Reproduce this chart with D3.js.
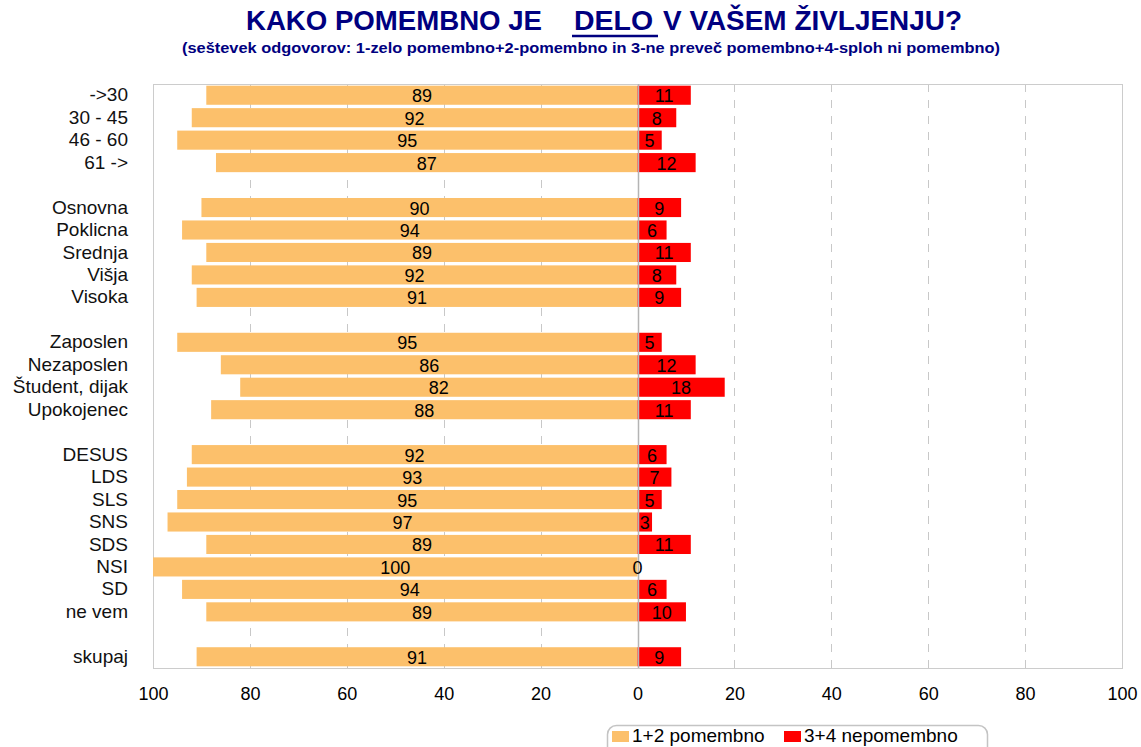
<!DOCTYPE html>
<html>
<head>
<meta charset="utf-8">
<script src="https://cdn.jsdelivr.net/npm/d3@7"></script>
<style>
  body { margin: 0; background: #fff; }
  .content { width: 1141px; height: 747px; }
  text { font-family: "Liberation Sans", Arial, sans-serif; }
</style>
</head>
<body>
<div class="content"></div>
<script>
// rows (empty keys are the gaps between groups)
var categories = ['->30', '30 - 45', '46 - 60', '61 ->', 'gap1',
  'Osnovna', 'Poklicna', 'Srednja', 'Višja', 'Visoka', 'gap2',
  'Zaposlen', 'Nezaposlen', 'Študent, dijak', 'Upokojenec', 'gap3',
  'DESUS', 'LDS', 'SLS', 'SNS', 'SDS', 'NSI', 'SD', 'ne vem', 'gap4',
  'skupaj'];
var pomembno = [89, 92, 95, 87, null, 90, 94, 89, 92, 91, null, 95, 86, 82, 88, null,
  92, 93, 95, 97, 89, 100, 94, 89, null, 91];
var nepomembno = [11, 8, 5, 12, null, 9, 6, 11, 8, 9, null, 5, 12, 18, 11, null,
  6, 7, 5, 3, 11, 0, 6, 10, null, 9];
var xTicks = [-100, -80, -60, -40, -20, 0, 20, 40, 60, 80, 100];
var seriesNames = ['1+2 pomembno', '3+4 nepomembno'];

var data = categories.map(function(c, i) {
  return {name: c, pos: pomembno[i], neg: nepomembno[i]};
}).filter(function(d) { return d.pos !== null; });

var svg = d3.select('.content')
  .append('svg')
  .attr('width', 1141)
  .attr('height', 747);

var margin = {left: 153, top: 84, right: 19, bottom: 79};
var width = 1141 - margin.left - margin.right,
  height = 747 - margin.top - margin.bottom;

var orange = '#fcc06b', red = '#ff0000', navy = '#000080';

// title
var title = svg.append('g').attr('fill', navy).attr('font-weight', 'bold');
title.append('text')
  .attr('x', 246).attr('y', 30)
  .attr('font-size', 28)
  .attr('textLength', 296).attr('lengthAdjust', 'spacingAndGlyphs')
  .text('KAKO POMEMBNO JE');
title.append('text')
  .attr('x', 574).attr('y', 30)
  .attr('font-size', 28)
  .attr('textLength', 79).attr('lengthAdjust', 'spacingAndGlyphs')
  .text('DELO');
title.append('line')
  .attr('x1', 572).attr('x2', 658)
  .attr('y1', 36).attr('y2', 36)
  .attr('stroke', navy).attr('stroke-width', 2.5);
title.append('text')
  .attr('x', 663).attr('y', 30)
  .attr('font-size', 28)
  .attr('textLength', 299).attr('lengthAdjust', 'spacingAndGlyphs')
  .text('V VAŠEM ŽIVLJENJU?');
title.append('text')
  .attr('x', 182).attr('y', 53)
  .attr('font-size', 15)
  .attr('textLength', 818).attr('lengthAdjust', 'spacingAndGlyphs')
  .text('(seštevek odgovorov: 1-zelo pomembno+2-pomembno in 3-ne preveč pomembno+4-sploh ni pomembno)');

var x = d3.scaleLinear().domain([-100, 100]).range([0, width]);
var y = d3.scaleBand().domain(categories).range([0, height])
  .paddingInner(0.15).paddingOuter(0.075);

var g = svg.append('g')
  .attr('transform', 'translate(' + margin.left + ',' + margin.top + ')');

// dashed grid
g.append('g')
  .selectAll('line')
  .data(xTicks.filter(function(t) { return t !== 0 && Math.abs(t) !== 100; }))
  .enter()
  .append('line')
  .attr('x1', function(d) { return Math.round(x(d)) + 0.5; })
  .attr('x2', function(d) { return Math.round(x(d)) + 0.5; })
  .attr('y1', 0).attr('y2', height)
  .attr('stroke', '#c8c8c8')
  .attr('stroke-dasharray', '8,8');

// plot border
g.append('rect')
  .attr('x', 0.5).attr('y', 0.5)
  .attr('width', width).attr('height', height)
  .attr('fill', 'none')
  .attr('stroke', '#cccccc');

// bars
g.append('g')
  .selectAll('rect')
  .data(data)
  .enter()
  .append('rect')
  .attr('x', function(d) { return x(-d.pos); })
  .attr('y', function(d) { return y(d.name); })
  .attr('width', function(d) { return x(0) - x(-d.pos); })
  .attr('height', y.bandwidth())
  .attr('fill', orange);

g.append('g')
  .selectAll('rect')
  .data(data)
  .enter()
  .append('rect')
  .attr('x', x(0))
  .attr('y', function(d) { return y(d.name); })
  .attr('width', function(d) { return x(d.neg) - x(0); })
  .attr('height', y.bandwidth())
  .attr('fill', red);

// zero line
g.append('line')
  .attr('x1', Math.round(x(0)) + 0.5).attr('x2', Math.round(x(0)) + 0.5)
  .attr('y1', 0).attr('y2', height)
  .attr('stroke', '#b4b4b4')
  .attr('stroke-width', 1.5);

// value labels
g.append('g')
  .selectAll('text')
  .data(data)
  .enter()
  .append('text')
  .attr('x', function(d) { return x(-d.pos / 2); })
  .attr('y', function(d) { return y(d.name) + y.bandwidth() / 2 + 7; })
  .attr('text-anchor', 'middle')
  .attr('font-size', 18)
  .attr('fill', '#000')
  .text(function(d) { return d.pos; });

g.append('g')
  .selectAll('text')
  .data(data)
  .enter()
  .append('text')
  .attr('x', function(d) { return x(d.neg / 2); })
  .attr('y', function(d) { return y(d.name) + y.bandwidth() / 2 + 7; })
  .attr('text-anchor', 'middle')
  .attr('font-size', 18)
  .attr('fill', '#000')
  .text(function(d) { return d.neg; });

// category axis
var axis_y = g.append('g')
  .call(d3.axisLeft(y).tickSize(0).tickPadding(25)
    .tickFormat(function(d) { return d.indexOf('gap') === 0 ? '' : d; }));
axis_y.selectAll('text')
  .attr('font-size', 19)
  .attr('font-family', '"Liberation Sans", Arial, sans-serif')
  .attr('fill', '#111');
axis_y.select('.domain').style('display', 'none');

// value axis
var axis_x = g.append('g')
  .attr('transform', 'translate(0,' + height + ')')
  .call(d3.axisBottom(x).tickValues(xTicks).tickSize(0).tickPadding(19)
    .tickFormat(function(d) { return Math.abs(d); }));
axis_x.selectAll('text')
  .attr('font-size', 18)
  .attr('font-family', '"Liberation Sans", Arial, sans-serif')
  .attr('fill', '#000');
axis_x.select('.domain').style('display', 'none');

// legend
var legend = svg.append('g').attr('transform', 'translate(607,725)');
legend.append('rect')
  .attr('x', 0.5).attr('y', 0.5)
  .attr('width', 380).attr('height', 40)
  .attr('rx', 9)
  .attr('fill', '#fff')
  .attr('stroke', '#c4c4c4')
  .attr('stroke-width', 1.5);
var legendColors = [orange, red];
var legendX = [5, 177];
seriesNames.forEach(function(n, i) {
  legend.append('rect')
    .attr('x', legendX[i]).attr('y', 6)
    .attr('width', 17).attr('height', 11)
    .attr('fill', legendColors[i]);
  legend.append('text')
    .attr('x', legendX[i] + 20).attr('y', 17)
    .attr('font-size', 19)
    .attr('fill', '#000')
    .text(n);
});
</script>
</body>
</html>
